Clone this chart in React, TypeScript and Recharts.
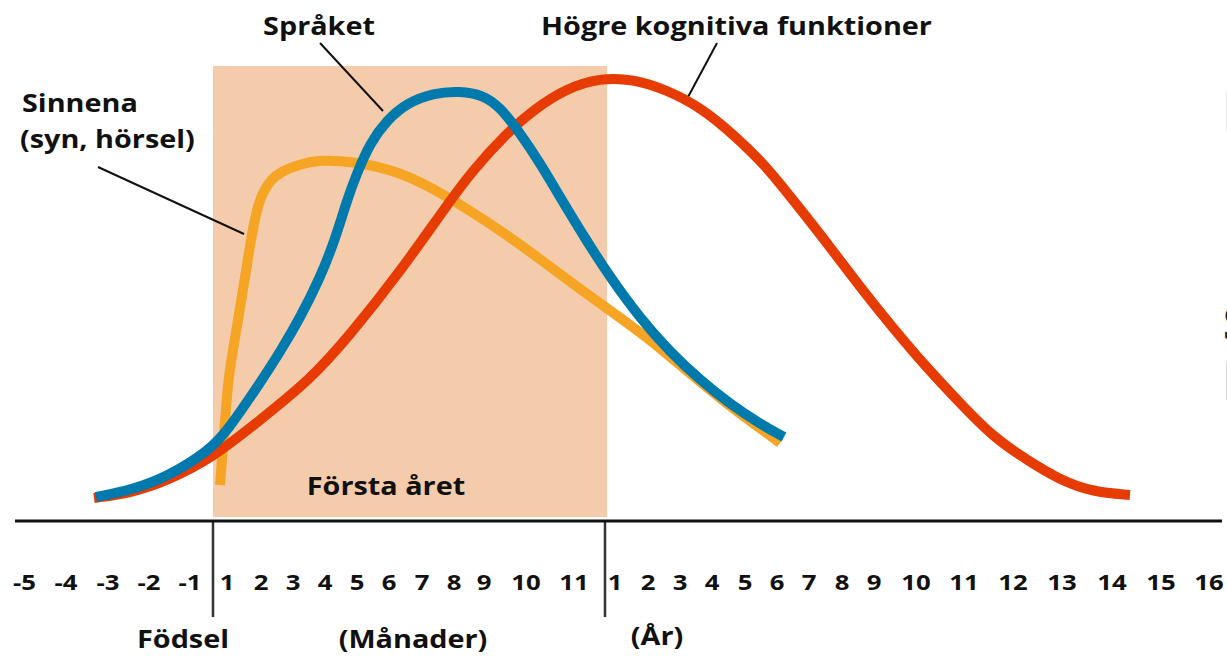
import React from 'react';
import { LineChart, Line, XAxis, YAxis, ReferenceArea, ReferenceLine, ReferenceDot } from 'recharts';

// Horizontal layout units of the original timeline (prenatal months, months, years)
const tickLabels = ['-5', '-4', '-3', '-2', '-1', '1', '2', '3', '4', '5', '6', '7', '8', '9', '10', '11',
  '1', '2', '3', '4', '5', '6', '7', '8', '9', '10', '11', '12', '13', '14', '15', '16'];
const tickPositions = [0.95, 5.1, 9.3, 13.4, 17.5, 21.2, 24.6, 27.8, 31.0, 34.2, 37.4, 40.7, 43.9, 46.9, 51.1, 55.9,
  60.0, 63.3, 66.5, 69.7, 73.0, 76.2, 79.4, 82.7, 85.9, 90.1, 94.9, 99.8, 104.7, 109.7, 114.6, 119.4];

const birthPos = 19.8;
const yearPos = 59.0;
const firstYearEnd = 59.2;
const firstYearTop = 91;

// Sinnena (syn, hörsel)
const sensesX = [20.5, 20.9, 21.3, 21.8, 22.3, 22.8, 23.3, 23.8, 24.3, 24.9, 25.6, 26.5, 28.5, 30.5, 33.5, 38.5, 43.2, 48.5, 52.5, 56.5, 60.0, 63.3, 66.5, 69.5, 72.5, 74.5, 76.5];
const sensesY = [7.2, 17.2, 28.2, 34.2, 40.2, 46.2, 52.6, 58.6, 63.2, 66.2, 68.2, 69.8, 71.4, 72.2, 72.0, 70.0, 65.0, 58.2, 52.4, 46.4, 41.4, 36.6, 31.2, 26.2, 21.4, 18.6, 15.6];

// Språket
const languageX = [8.1, 11.6, 15.2, 19.5, 21.3, 24.7, 26.5, 28.5, 30.5, 32.0, 33.2, 34.2, 35.5, 37.2, 39.2, 41.8, 44.5, 46.8, 48.5, 50.5, 52.5, 54.5, 57.1, 59.7, 62.5, 65.5, 68.5, 71.5, 74.5, 76.9];
const languageY = [4.8, 6.2, 8.8, 14.2, 18.2, 28.2, 33.8, 40.6, 48.6, 56.2, 64.2, 69.6, 75.6, 80.2, 83.6, 85.6, 86.0, 85.2, 82.8, 77.6, 71.6, 64.8, 56.2, 48.2, 40.6, 33.8, 28.2, 23.4, 19.4, 16.8];

// Högre kognitiva funktioner
const cognitiveX = [7.9, 11.6, 15.2, 19.9, 24.5, 29.5, 33.5, 38.5, 43.2, 45.8, 49.2, 51.8, 55.2, 58.5, 61.8, 65.2, 68.5, 71.8, 75.2, 77.8, 81.2, 84.5, 87.8, 91.2, 94.5, 97.8, 101.2, 104.5, 107.8, 111.5];
const cognitiveY = [4.6, 5.6, 8.0, 12.8, 20.2, 28.2, 37.2, 49.8, 63.2, 70.2, 77.6, 82.2, 86.6, 88.6, 88.4, 86.2, 82.8, 77.4, 70.8, 64.2, 55.6, 46.8, 38.6, 30.6, 23.6, 16.8, 12.2, 8.2, 5.8, 5.2];

const annotationTexts = ['Sinnena', '(syn, hörsel)', 'Språket', 'Högre kognitiva funktioner', 'Första året', 'Födsel', '(Månader)', '(År)'];
const edgeTexts = ['I', 'I', 'S', 'I'];

const toPoints = (xs: number[], ys: number[]) => xs.map((x, i) => ({ x, y: ys[i] }));
const sensesData = toPoints(sensesX, sensesY);
const languageData = toPoints(languageX, languageY);
const cognitiveData = toPoints(cognitiveX, cognitiveY);

// layout of annotations (anchor points in chart units)
const annotationLayout = [
  { x: 0.7, y: 81.8, anchor: 'start' },
  { x: 0.5, y: 74.6, anchor: 'start' },
  { x: 30.4, y: 97.2, anchor: 'middle' },
  { x: 72.15, y: 97.2, anchor: 'middle' },
  { x: 37.1, y: 5.2, anchor: 'middle' },
  { x: 16.8, y: -25.4, anchor: 'middle' },
  { x: 39.8, y: -25.4, anchor: 'middle' },
  { x: 64.2, y: -24.8, anchor: 'middle' },
];
const edgeLayout = [
  { x: 120.68, y: 78, size: 55, fill: '#bdbdbd' },
  { x: 120.68, y: 51.2, size: 66, fill: '#bdbdbd' },
  { x: 120.8, y: 36.2, size: 46, fill: '#222' },
  { x: 120.7, y: 24.2, size: 54, fill: '#111' },
];
const leaders = [
  [{ x: 8.3, y: 70.8 }, { x: 22.9, y: 57.4 }],
  [{ x: 30.5, y: 95.6 }, { x: 36.8, y: 82.0 }],
  [{ x: 70.2, y: 95.6 }, { x: 67.3, y: 84.8 }],
];

const FONT = "'Open Sans', 'Noto Sans', sans-serif";

const Tick = (props: any) => {
  const { x, y, payload } = props;
  const i = tickPositions.indexOf(payload.value);
  return (
    <g transform={`translate(${x},${y + 69}) scale(1.17,1)`}>
      <text x={0} y={0} textAnchor="middle" fontSize={22} fontWeight={700} fontFamily={FONT} fill="#111">
        {tickLabels[i]}
      </text>
    </g>
  );
};

export default function App() {
  return (
    <div style={{ position: 'absolute', left: 0, top: 0, width: 1227, height: 656, background: '#fff' }}>
      <LineChart width={1227} height={656} margin={{ top: 21, right: 5, bottom: 0, left: 15 }}>
        <XAxis
          type="number"
          dataKey="x"
          domain={[0, 120.7]}
          allowDataOverflow
          ticks={tickPositions}
          interval={0}
          height={135}
          tickLine={false}
          tickSize={0}
          tickMargin={0}
          axisLine={{ stroke: '#111', strokeWidth: 3 }}
          tick={<Tick />}
        />
        <YAxis type="number" domain={[0, 100]} allowDataOverflow hide width={0} />
        <ReferenceArea x1={birthPos} x2={firstYearEnd} y1={0.8} y2={firstYearTop} fill="#F4CCAB" fillOpacity={1} stroke="none" ifOverflow="visible" />
        <ReferenceLine segment={[{ x: birthPos, y: 0 }, { x: birthPos, y: -19.2 }]} stroke="#333" strokeWidth={2.5} ifOverflow="visible" />
        <ReferenceLine segment={[{ x: yearPos, y: 0 }, { x: yearPos, y: -19.2 }]} stroke="#333" strokeWidth={2.5} ifOverflow="visible" />
        {leaders.map((seg, i) => (
          <ReferenceLine key={'l' + i} segment={seg} stroke="#111" strokeWidth={2} ifOverflow="visible" />
        ))}
        <Line data={sensesData} dataKey="y" type="basis" stroke="#F5A424" strokeWidth={10} dot={false} isAnimationActive={false} />
        <Line data={cognitiveData} dataKey="y" type="basis" stroke="#E63B02" strokeWidth={10} dot={false} isAnimationActive={false} />
        <Line data={languageData} dataKey="y" type="basis" stroke="#0079AC" strokeWidth={10} dot={false} isAnimationActive={false} />
        {annotationTexts.map((t, i) => (
          <ReferenceDot
            key={'a' + i}
            x={annotationLayout[i].x}
            y={annotationLayout[i].y}
            r={0}
            ifOverflow="visible"
            shape={(p: any) => (
              <g transform={`translate(${p.cx},${p.cy}) scale(1.13,1)`}>
                <text x={0} y={0} textAnchor={annotationLayout[i].anchor as any} fontSize={25.5} fontWeight={700} fontFamily={FONT} fill="#111">
                  {t}
                </text>
              </g>
            )}
          />
        ))}
        {edgeTexts.map((t, i) => (
          <ReferenceDot
            key={'e' + i}
            x={edgeLayout[i].x}
            y={edgeLayout[i].y}
            r={0}
            ifOverflow="visible"
            shape={(p: any) => (
              <text x={p.cx} y={p.cy} textAnchor="start" fontSize={edgeLayout[i].size} fontWeight={700} fontFamily={FONT} fill={edgeLayout[i].fill}>
                {t}
              </text>
            )}
          />
        ))}
      </LineChart>
    </div>
  );
}
